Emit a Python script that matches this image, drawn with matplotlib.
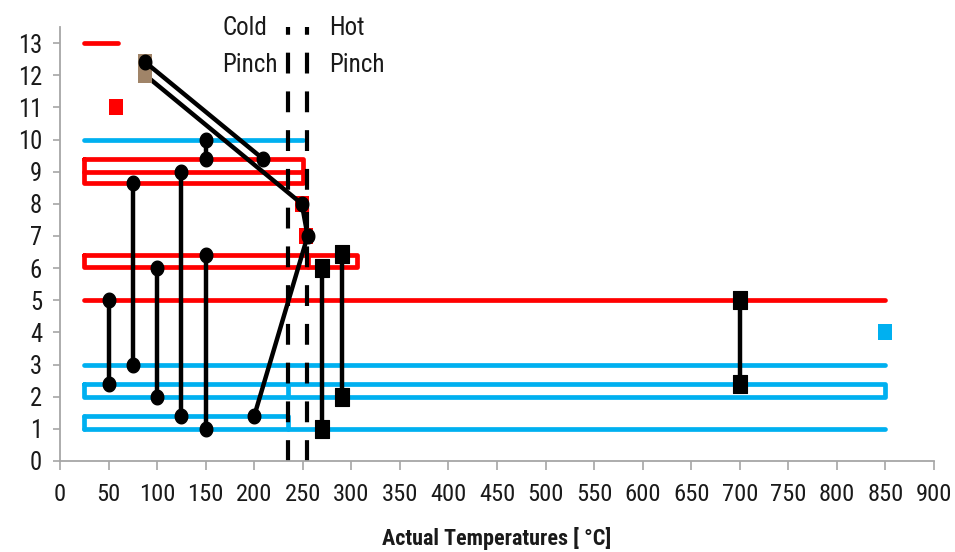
import os
import matplotlib
matplotlib.use("Agg")
import numpy as np
import matplotlib.pyplot as plt
from matplotlib import font_manager as fm
from matplotlib.path import Path
from matplotlib.markers import MarkerStyle
from matplotlib.textpath import TextToPath
from matplotlib.transforms import blended_transform_factory

# ---- axis ticks ----
x_ticks = list(range(0, 901, 50))
y_ticks = list(range(0, 14))

# ---- red (hot) streams ----
red_lines_x = [[25, 60], [25, 850]]
red_lines_y = [13, 5]
red_box1_x = [25, 250]
red_box1_y = [8.65, 9.0, 9.4]          # bottom, middle, top
red_box2_x = [25, 306]
red_box2_y = [6.05, 6.4]
red_box2_split = 255

# ---- blue (cold) streams ----
blue_lines_x = [[25, 250], [25, 850]]
blue_lines_y = [10, 3]
blue_box_x = [25, 850]
blue_box_y = [2.0, 2.4]
blue_box_split = 235
blue_step_x = [25, 235, 850]
blue_step_y = [1.0, 1.4]

# ---- single points ----
red_pts_x = [58, 249, 253]
red_pts_y = [11, 8, 7]
brown_pts_x = [88, 88]
brown_pts_y = [12.4, 12.0]
blue_pts_x = [850]
blue_pts_y = [4]

# ---- exchangers with round ends ----
round_x = [[50, 50], [75, 75], [100, 100], [125, 125], [150, 150], [150, 150], [88, 209]]
round_y = [[5.0, 2.4], [8.65, 3.0], [6.0, 2.0], [9.0, 1.4], [6.4, 1.0], [10.0, 9.4], [12.4, 9.4]]
chain_x = [88, 249, 255, 200]
chain_y = [12.0, 8.0, 7.0, 1.4]

# ---- exchangers with square ends ----
square_x = [[270, 270], [290, 290], [700, 700]]
square_y = [[6.0, 1.0], [6.45, 2.0], [5.0, 2.4]]

# ---- pinch temperatures ----
pinch_x = [235, 254]
pinch_names = [("Cold", "Pinch"), ("Hot", "Pinch")]

RED = '#FF0000'
BLUE = '#00B0F0'
BROWN = '#A08468'
GREY = '#A6A6A6'
INK = '#1a1a1a'


def find_narrow(bold):
    """Pick a narrow/condensed sans face if one is installed."""
    prefs = ['liberationsansnarrow', 'arialn', 'arial narrow', 'robotocondensed',
             'roboto condensed', 'notosans-condensed', 'noto sans condensed',
             'opensans-condensed', 'open sans condensed', 'dejavusanscondensed',
             'dejavu sans condensed']
    best = None
    for f in fm.fontManager.ttflist:
        fn = os.path.basename(f.fname).lower()
        key = fn + ' ' + f.name.lower()
        if not any(w in key for w in ('narrow', 'condensed')):
            continue
        if any(w in key for w in ('extra', 'semi', 'ultra', 'mono', 'serif',
                                  'italic', 'oblique', 'light', 'thin', 'black', 'medium')):
            continue
        is_bold = (f.weight in ('bold', 700) or 'bold' in fn)
        if is_bold != bold:
            continue
        rank = next((i for i, p in enumerate(prefs) if p in key), len(prefs))
        if best is None or rank < best[0]:
            best = (rank, f.fname)
    if best:
        return fm.FontProperties(fname=best[1])
    return fm.FontProperties(family=['Liberation Sans', 'DejaVu Sans'],
                             weight='bold' if bold else 'normal')


fp_reg = find_narrow(False)
fp_bold = find_narrow(True)
_t2p = TextToPath()


def fit_size(prop, text, width_px, height_px):
    """Font size (pt) balancing the wanted advance width and glyph height."""
    p = prop.copy()
    p.set_size(10)
    w, h, d = _t2p.get_text_width_height_descent(text, p, ismath=False)
    s_w = 10 * (width_px * 0.72) / w
    s_h = 10 * (height_px * 0.72) / (h - d) if h - d > 0 else s_w
    return 0.5 * (s_w + s_h)


def with_size(prop, size):
    p = prop.copy()
    p.set_size(size)
    return p


fs_xtick = fit_size(fp_reg, "100", 35.5, 18)
fs_ytick = fit_size(fp_reg, "13", 25.5, 16.8)
fs_pinch = fit_size(fp_reg, "Pinch", 55, 19)
fs_xlabel = fit_size(fp_bold, "Actual Temperatures [ °C]", 233, 18)

# slightly tall marker shapes
t = np.linspace(0, 2 * np.pi, 72)
ellipse = MarkerStyle(Path(np.column_stack([0.43 * np.cos(t), 0.5 * np.sin(t)]), closed=True))


def rect_marker(w):
    v = [(-w, -0.5), (w, -0.5), (w, 0.5), (-w, 0.5), (-w, -0.5)]
    return MarkerStyle(Path(v, closed=True))


tall_sq = rect_marker(0.38)
col_sq = rect_marker(0.42)

fig = plt.figure(figsize=(9.55, 5.52), dpi=100)
ax = fig.add_axes([60 / 955, 91 / 552, 874 / 955, 434 / 552])
ax.set_xlim(0, 900)
ax.set_ylim(0, 13.5)

lw = 3.4
line_kw = dict(lw=lw, solid_capstyle='round', solid_joinstyle='round', zorder=2)

# red streams
for xs, yv in zip(red_lines_x, red_lines_y):
    ax.plot(xs, [yv, yv], color=RED, **line_kw)
x0, x1 = red_box1_x
b, m, tp = red_box1_y
ax.plot([x0, x1, x1, x0, x0], [tp, tp, b, b, tp], color=RED, **line_kw)
ax.plot([x0, x1], [m, m], color=RED, **line_kw)
x0, x1 = red_box2_x
b, tp = red_box2_y
ax.plot([x0, x1, x1, x0, x0], [tp, tp, b, b, tp], color=RED, **line_kw)
ax.plot([red_box2_split, red_box2_split], [b, tp], color=RED, **line_kw)

# blue streams
for xs, yv in zip(blue_lines_x, blue_lines_y):
    ax.plot(xs, [yv, yv], color=BLUE, **line_kw)
x0, x1 = blue_box_x
b, tp = blue_box_y
ax.plot([x0, x1, x1, x0, x0], [tp, tp, b, b, tp], color=BLUE, **line_kw)
ax.plot([blue_box_split, blue_box_split], [b, tp], color=BLUE, **line_kw)
sx0, sx1, sx2 = blue_step_x
b, tp = blue_step_y
ax.plot([sx0, sx1, sx1], [tp, tp, b], color=BLUE, **line_kw)
ax.plot([sx0, sx0], [tp, b], color=BLUE, **line_kw)
ax.plot([sx0, sx2], [b, b], color=BLUE, **line_kw)

# pinch lines
for px in pinch_x:
    ax.plot([px, px], [0, 13.5], color='black', lw=3.0, linestyle=(0, (5, 4.3)),
            dash_capstyle='butt', zorder=2.5)

# coloured points
ax.plot(red_pts_x, red_pts_y, ls='none', marker=col_sq, ms=11.5, color=RED, mew=0, zorder=3)
ax.plot(blue_pts_x, blue_pts_y, ls='none', marker=col_sq, ms=11.5, color=BLUE, mew=0, zorder=3)

# exchanger chain (start hidden under the brown square)
ax.plot(chain_x, chain_y, color='black', lw=3.2, marker=ellipse, ms=10.5,
        markevery=[1, 2, 3], solid_capstyle='round', zorder=4)
ax.plot(brown_pts_x, brown_pts_y, ls='none', marker=col_sq, ms=12, color=BROWN,
        mew=0, zorder=4.5)

for xs, ys in zip(round_x, round_y):
    ax.plot(xs, ys, color='black', lw=3.2, marker=ellipse, ms=10.5,
            solid_capstyle='round', zorder=5)
for xs, ys in zip(square_x, square_y):
    ax.plot(xs, ys, color='black', lw=3.2, marker=tall_sq, ms=12.5,
            mec='black', mew=0.8, solid_capstyle='round', zorder=5)

# pinch labels above the plot area
trans = blended_transform_factory(ax.transData, fig.transFigure)
pfp = with_size(fp_reg, fs_pinch)
for px_lbl, (l1, l2) in zip([167, 277], pinch_names):
    ax.text(px_lbl, 1 - 35 / 552, l1, transform=trans, fontproperties=pfp,
            va='baseline', ha='left', color=INK, clip_on=False)
    ax.text(px_lbl, 1 - 72 / 552, l2, transform=trans, fontproperties=pfp,
            va='baseline', ha='left', color=INK, clip_on=False)

# axes styling
ax.set_xticks(x_ticks)
ax.set_yticks(y_ticks)
for s in ['top', 'right']:
    ax.spines[s].set_visible(False)
for s in ['left', 'bottom']:
    ax.spines[s].set_color(GREY)
    ax.spines[s].set_linewidth(1.3)
ax.tick_params(axis='x', direction='out', length=6.5, width=1.2, color=GREY,
               pad=9.5, labelcolor=INK)
ax.tick_params(axis='y', direction='out', length=5, width=1.2, color=GREY,
               pad=8, labelcolor=INK)
for lbl in ax.get_xticklabels():
    lbl.set_fontproperties(with_size(fp_reg, fs_xtick))
for lbl in ax.get_yticklabels():
    lbl.set_fontproperties(with_size(fp_reg, fs_ytick))

ax.set_xlabel('Actual Temperatures [ °C]', fontproperties=with_size(fp_bold, fs_xlabel),
              color=INK)
ax.xaxis.set_label_coords(0.5, -0.152)

fig.savefig('out.png', dpi=100)
